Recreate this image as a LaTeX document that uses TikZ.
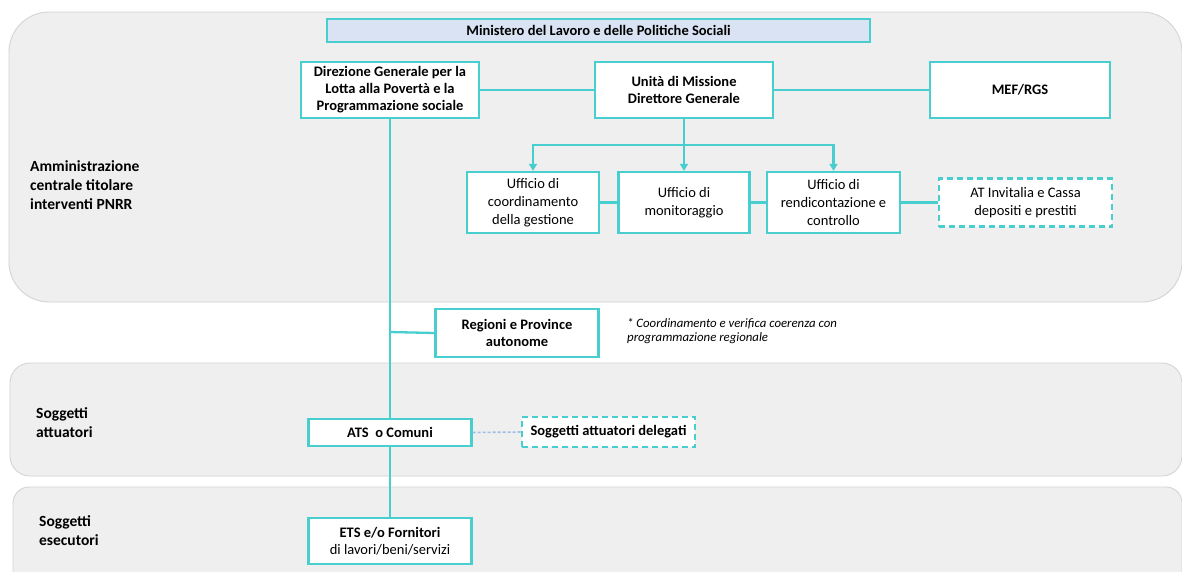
\documentclass[tikz,border=0pt]{standalone}
\usepackage{fontspec}
\setmainfont{Carlito}
\usetikzlibrary{arrows.meta}
\definecolor{teal1}{RGB}{72,206,206}
\definecolor{panelfill}{RGB}{239,239,239}
\definecolor{panelline}{RGB}{212,212,212}
\definecolor{minfill}{RGB}{218,227,243}
\definecolor{dotblue}{RGB}{160,190,230}
\tikzset{
  panel/.style={fill=panelfill, draw=panelline, line width=0.9pt},
  box/.style={draw=teal1, fill=white, line width=2.3pt, align=center, inner sep=1pt,
    font=\fontsize{14.5}{17}\selectfont},
  boldbox/.style={box, font=\fontsize{14.5}{17}\selectfont\bfseries},
  dashbox/.style={box, dash pattern=on 6pt off 4pt},
  conn/.style={draw=teal1, line width=2.3pt},
  arr/.style={conn, -{Triangle[width=8pt,length=7pt]}},
  sect/.style={anchor=west, align=left, inner sep=0pt, font=\fontsize{15.5}{19}\selectfont\bfseries},
  note/.style={anchor=west, align=left, inner sep=0pt, font=\fontsize{12.8}{14}\selectfont\itshape}
}
\begin{document}
\begin{tikzpicture}[x=1pt, y=-1pt]
\useasboundingbox (0,0) rectangle (1182,571);
\fill[white] (0,0) rectangle (1182,571);
% panels
\draw[panel, rounded corners=40pt] (9,12) rectangle (1182,302);
\draw[panel, rounded corners=20pt] (10,363) rectangle (1182,476);
\draw[panel, rounded corners=16pt] (13,487) rectangle (1182,590);
% section labels
\node[sect] (s1) at (30,185) {Amministrazione\\centrale titolare\\interventi PNRR};
\node[sect] (s2) at (36,423) {Soggetti\\attuatori};
\node[sect] (s3) at (39,531) {Soggetti\\esecutori};
% nodes
\node[boldbox, fill=minfill, minimum width=543pt, minimum height=23pt, font=\fontsize{14.5}{15}\selectfont\bfseries] (min) at (598.5,30.5) {Ministero del Lavoro e delle Politiche Sociali};
\node[boldbox, minimum width=178pt, minimum height=56pt] (dg) at (390,90) {Direzione Generale per la\\Lotta alla Povertà e la\\Programmazione sociale};
\node[boldbox, minimum width=178pt, minimum height=56pt] (um) at (684,90) {Unità di Missione\\Direttore Generale};
\node[boldbox, minimum width=180pt, minimum height=56pt] (mef) at (1020,90) {MEF/RGS};
\node[box, minimum width=132pt, minimum height=61pt, font=\fontsize{14.5}{18}\selectfont] (u1) at (533,202.5) {Ufficio di\\coordinamento\\della gestione};
\node[box, minimum width=131pt, minimum height=61pt, font=\fontsize{14.5}{18}\selectfont] (u2) at (684,202.5) {Ufficio di\\monitoraggio};
\node[box, minimum width=133pt, minimum height=61pt, font=\fontsize{14.5}{18}\selectfont] (u3) at (833.5,202.5) {Ufficio di\\rendicontazione e\\controllo};
\node[dashbox, minimum width=173pt, minimum height=48pt, font=\fontsize{14.5}{18}\selectfont] (at) at (1025.5,202.5) {AT Invitalia e Cassa\\depositi e prestiti};
\node[boldbox, minimum width=163pt, minimum height=48pt] (reg) at (517,333) {Regioni e Province\\autonome};
\node[boldbox, minimum width=163pt, minimum height=27pt] (ats) at (390,432.5) {ATS\ \ o Comuni};
\node[dashbox, minimum width=173pt, minimum height=30pt, font=\fontsize{14.5}{17}\selectfont\bfseries] (del) at (608.5,432) {Soggetti attuatori delegati};
\node[box, minimum width=163pt, minimum height=46pt] (ets) at (390,541) {\textbf{ETS e/o Fornitori}\\di lavori/beni/servizi};
\node[note] (nt) at (627,331) {* Coordinamento e verifica coerenza con\\programmazione regionale};
% connectors
\draw[conn] (dg.east) -- (um.west);
\draw[conn] (um.east) -- (mef.west);
\coordinate (hub) at (684,145);
\draw[conn] (um.south) -- (hub);
\draw[arr] (hub) -- (u2.north);
\draw[arr] (hub) -| (u1.north);
\draw[arr] (hub) -| (u3.north);
\draw[conn] (u1.east) -- (u2.west);
\draw[conn] (u2.east) -- (u3.west);
\draw[conn] (u3.east) -- (at.west);
\draw[conn] (dg.south) -- (ats.north);
\coordinate (br) at (390,332);
\draw[conn] (br) -- (reg.west);
\draw[conn] (ats.south) -- (ets.north);
\draw[draw=dotblue, line width=1.6pt, dash pattern=on 3pt off 2pt] (ats.east) -- (del.west);
\end{tikzpicture}
\end{document}
